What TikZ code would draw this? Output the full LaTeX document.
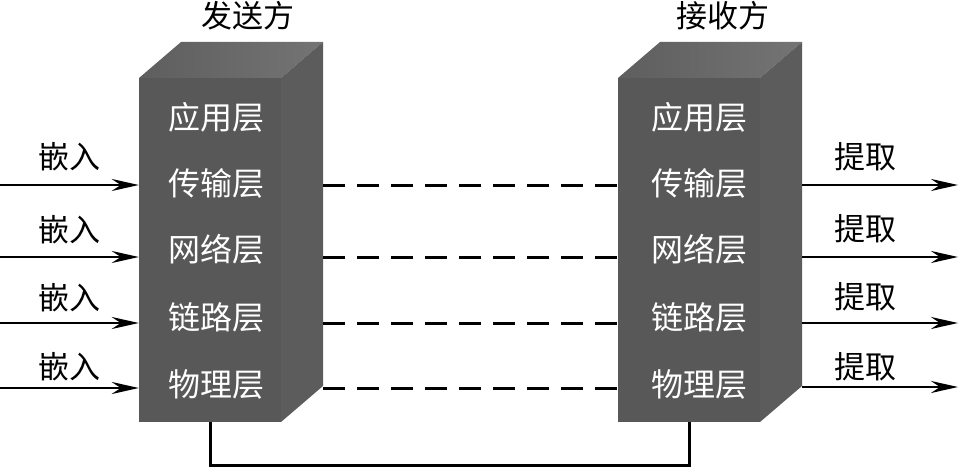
\documentclass[tikz,border=0pt]{standalone}
\usepackage{fontspec}
\newfontfamily\cjk{Noto Sans CJK SC}
\usetikzlibrary{arrows.meta}
\definecolor{boxfront}{HTML}{585858}
\definecolor{boxtopA}{HTML}{5E5E5E}
\definecolor{boxtopB}{HTML}{747474}
\definecolor{boxside}{HTML}{5C5C5C}
\begin{document}
\begin{tikzpicture}[x=1pt,y=-1pt,
  lay/.style={text=white,font=\cjk\fontsize{32}{32}\selectfont,inner sep=0pt},
  lab/.style={text=black,font=\cjk\fontsize{31}{31}\selectfont,inner sep=0pt},
  arr/.style={line width=2.8pt,-{Stealth[length=27pt,width=12pt,inset=9pt]}},
  dsh/.style={line width=3pt,dash pattern=on 22pt off 12pt},
  wire/.style={line width=3pt},
  face/.style={draw=none,minimum width=142pt,minimum height=344pt,inner sep=0pt}
]
\useasboundingbox (0,0) rectangle (963,468);
\fill[white] (0,0) rectangle (963,468);
% left block
\shade[left color=boxtopA,right color=boxtopB] (139,78) -- (181,42) -- (323,42) -- (281,78) -- cycle;
\fill[boxside] (281,78) -- (323,42) -- (323,386) -- (281,422) -- cycle;
\fill[boxfront] (139,78) rectangle (281,422);
\node[face] (L) at (210,250) {};
\node[face] (Lb) at (252,214) {};
% right block
\shade[left color=boxtopA,right color=boxtopB] (618,78) -- (660,42) -- (802,42) -- (760,78) -- cycle;
\fill[boxside] (760,78) -- (802,42) -- (802,386) -- (760,422) -- cycle;
\fill[boxfront] (618,78) rectangle (760,422);
\node[face] (R) at (689,250) {};
\node[face] (Rb) at (731,214) {};
% titles
\node[lab] (tl) at (248,16) {发送方};
\node[lab] (tr) at (723,16) {接收方};
% layer labels
\node[lay] (l1) at (216,117) {应用层};
\node[lay] (l2) at (216,183) {传输层};
\node[lay] (l3) at (216,249) {网络层};
\node[lay] (l4) at (216,317) {链路层};
\node[lay] (l5) at (216,384) {物理层};
\node[lay] (r1) at (699,117) {应用层};
\node[lay] (r2) at (699,183) {传输层};
\node[lay] (r3) at (699,249) {网络层};
\node[lay] (r4) at (699,317) {链路层};
\node[lay] (r5) at (699,384) {物理层};
% rows
\coordinate (a2) at (0,185);
\coordinate (a3) at (0,257);
\coordinate (a4) at (0,323);
\coordinate (a5) at (0,388);
\coordinate (b2) at (958,185);
\coordinate (b3) at (958,257);
\coordinate (b4) at (958,323);
\coordinate (b5) at (958,387);
% input arrows
\node[lab] (e2) at (69,157) {嵌入};
\node[lab] (e3) at (69,230) {嵌入};
\node[lab] (e4) at (69,298) {嵌入};
\node[lab] (e5) at (69,367) {嵌入};
\draw[arr] (a2) -- (a2 -| L.west);
\draw[arr] (a3) -- (a3 -| L.west);
\draw[arr] (a4) -- (a4 -| L.west);
\draw[arr] (a5) -- (a5 -| L.west);
% output arrows
\node[lab] (x2) at (865,157) {提取};
\node[lab] (x3) at (865,229) {提取};
\node[lab] (x4) at (865,297) {提取};
\node[lab] (x5) at (865,367) {提取};
\draw[arr] (b2 -| Rb.east) -- (b2);
\draw[arr] (b3 -| Rb.east) -- (b3);
\draw[arr] (b4 -| Rb.east) -- (b4);
\draw[arr] (b5 -| Rb.east) -- (b5);
% dashed peer links
\draw[dsh] (a2 -| Lb.east) -- (a2 -| R.west);
\draw[dsh] (a3 -| Lb.east) -- (a3 -| R.west);
\draw[dsh] (a4 -| Lb.east) -- (a4 -| R.west);
\draw[dsh] (a5 -| Lb.east) -- (a5 -| R.west);
% physical link
\draw[wire] (L.south) -- ++(0,43) -| (R.south);
\end{tikzpicture}
\end{document}
